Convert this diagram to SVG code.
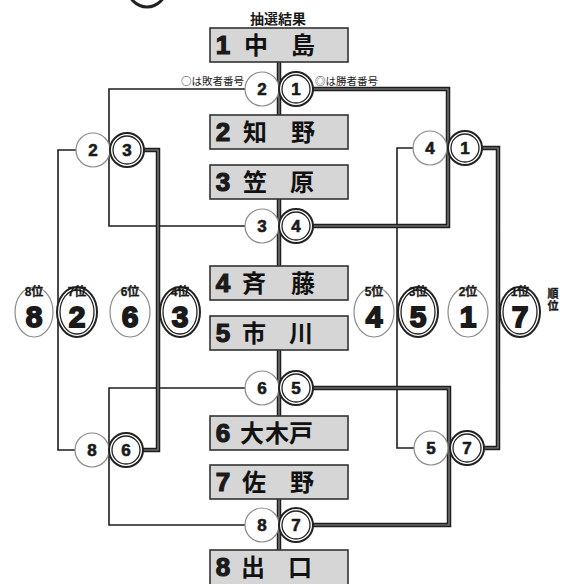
<svg xmlns="http://www.w3.org/2000/svg" width="568" height="584" viewBox="0 0 568 584">
<style>
.box{fill:#d6d6d6;stroke:#333;stroke-width:1.6}
.t{fill:none;stroke:#1e1e1e;stroke-width:1.6}
.w{fill:none;stroke:#1e1e1e;stroke-width:4.5}
.wi{fill:none;stroke:#8c8c8c;stroke-width:1.2}
.lc{fill:#fff;stroke:#8a8a8a;stroke-width:1.2}
.wo{fill:#fff;stroke:#222;stroke-width:2}
.wn{fill:none;stroke:#222;stroke-width:1.3}
.num{font-family:"Liberation Sans",Arial,sans-serif;font-weight:bold;fill:#1a1a1a;text-anchor:middle}
.cn{font-size:17px;stroke:#1a1a1a;stroke-width:0.6}
.bn{font-size:26px;stroke:#1a1a1a;stroke-width:1.2}
.rn{font-size:30px;stroke:#1a1a1a;stroke-width:1.8}
.rl{font-family:"Liberation Sans","Noto Sans CJK JP",sans-serif;font-weight:bold;font-size:12px;fill:#1a1a1a;text-anchor:middle;stroke:#1a1a1a;stroke-width:0.3}
.name{font-family:"Noto Sans CJK JP",sans-serif;font-weight:bold;font-size:24px;fill:#111;text-anchor:middle}
.small{font-family:"Noto Sans CJK JP",sans-serif;font-size:10.5px;fill:#1a1a1a}
.head{font-family:"Noto Sans CJK JP",sans-serif;font-weight:bold;font-size:14px;fill:#1a1a1a;text-anchor:middle}
</style>

<ellipse cx="147" cy="-12" rx="19" ry="19" fill="none" stroke="#222" stroke-width="3"/>
<text class="head" x="278" y="24">抽選結果</text>
<text class="small" x="244" y="85" text-anchor="end">○は敗者番号</text>
<text class="small" x="315" y="85">◎は勝者番号</text>

<g id="connectors">
  <path class="t" d="M262,89 H109 V226 H262"/>
  <path class="t" d="M262,388 H109 V525 H262"/>
  <path class="t" d="M93,150 H58 V450 H92"/>
  <path class="t" d="M430,148 H397 V448 H431"/>
  <path class="w" d="M296,89 H448 V226 H296 M296,388 H449 V525 H296 M127,150 H158 V450 H126 M465,148 H498 V448 H467 M279,62 V115 M279,199 V266 M279,350 V416 M279,499 V550"/>
  <path class="wi" d="M296,89 H448 V226 H296 M296,388 H449 V525 H296 M127,150 H158 V450 H126 M465,148 H498 V448 H467 M279,62 V115 M279,199 V266 M279,350 V416 M279,499 V550"/>
</g>

<g id="p1"><rect class="box" x="210" y="28" width="138" height="34"/><text class="num bn" x="223" y="54">1</text><text class="name" x="256" y="54">中</text><text class="name" x="303" y="54">島</text></g>
<g id="p2"><rect class="box" x="210" y="115" width="138" height="34"/><text class="num bn" x="223" y="141">2</text><text class="name" x="255" y="141">知</text><text class="name" x="303" y="141">野</text></g>
<g id="p3"><rect class="box" x="210" y="165" width="138" height="34"/><text class="num bn" x="223" y="191">3</text><text class="name" x="255" y="191">笠</text><text class="name" x="302" y="191">原</text></g>
<g id="p4"><rect class="box" x="210" y="266" width="138" height="34"/><text class="num bn" x="223" y="292">4</text><text class="name" x="254" y="292">斉</text><text class="name" x="303" y="292">藤</text></g>
<g id="p5"><rect class="box" x="210" y="316" width="138" height="34"/><text class="num bn" x="223" y="342">5</text><text class="name" x="254" y="342">市</text><text class="name" x="301" y="342">川</text></g>
<g id="p6"><rect class="box" x="210" y="416" width="138" height="34"/><text class="num bn" x="223" y="442">6</text><text class="name" x="252" y="442">大</text><text class="name" x="277" y="442">木</text><text class="name" x="301" y="442">戸</text></g>
<g id="p7"><rect class="box" x="210" y="465" width="138" height="34"/><text class="num bn" x="223" y="491">7</text><text class="name" x="254" y="491">佐</text><text class="name" x="302" y="491">野</text></g>
<g id="p8"><rect class="box" x="210" y="550" width="138" height="40"/><text class="num bn" x="223" y="576">8</text><text class="name" x="253" y="576">出</text><text class="name" x="300" y="576">口</text></g>

<g id="m1">
  <circle class="lc" cx="262" cy="89" r="17"/><text class="num cn" x="262" y="95">2</text>
  <circle class="wo" cx="296" cy="89" r="17"/><circle class="wn" cx="296" cy="89" r="14"/><text class="num cn" x="296" y="95">1</text>
</g>
<g id="m2">
  <circle class="lc" cx="262" cy="226" r="17"/><text class="num cn" x="262" y="232">3</text>
  <circle class="wo" cx="296" cy="226" r="17"/><circle class="wn" cx="296" cy="226" r="14"/><text class="num cn" x="296" y="232">4</text>
</g>
<g id="m3">
  <circle class="lc" cx="262" cy="388" r="17"/><text class="num cn" x="262" y="394">6</text>
  <circle class="wo" cx="296" cy="388" r="17"/><circle class="wn" cx="296" cy="388" r="14"/><text class="num cn" x="296" y="394">5</text>
</g>
<g id="m4">
  <circle class="lc" cx="262" cy="525" r="17"/><text class="num cn" x="262" y="531">8</text>
  <circle class="wo" cx="296" cy="525" r="17"/><circle class="wn" cx="296" cy="525" r="14"/><text class="num cn" x="296" y="531">7</text>
</g>
<g id="l1">
  <circle class="lc" cx="93" cy="150" r="17"/><text class="num cn" x="93" y="156">2</text>
  <circle class="wo" cx="127" cy="150" r="17"/><circle class="wn" cx="127" cy="150" r="14"/><text class="num cn" x="127" y="156">3</text>
</g>
<g id="l2">
  <circle class="lc" cx="92" cy="450" r="17"/><text class="num cn" x="92" y="456">8</text>
  <circle class="wo" cx="126" cy="450" r="17"/><circle class="wn" cx="126" cy="450" r="14"/><text class="num cn" x="126" y="456">6</text>
</g>
<g id="w1">
  <circle class="lc" cx="430" cy="148" r="17"/><text class="num cn" x="430" y="154">4</text>
  <circle class="wo" cx="465" cy="148" r="17"/><circle class="wn" cx="465" cy="148" r="14"/><text class="num cn" x="465" y="154">1</text>
</g>
<g id="w2">
  <circle class="lc" cx="431" cy="448" r="17"/><text class="num cn" x="431" y="454">5</text>
  <circle class="wo" cx="467" cy="448" r="17"/><circle class="wn" cx="467" cy="448" r="14"/><text class="num cn" x="467" y="454">7</text>
</g>

<g id="rank8"><ellipse class="lc" cx="34" cy="312" rx="19" ry="25"/><text class="rl" x="34" y="296">8位</text><text class="num rn" x="34" y="327">8</text></g>
<g id="rank7"><ellipse class="wo" cx="77" cy="312" rx="20" ry="25"/><ellipse class="wn" cx="77" cy="312" rx="17" ry="22"/><text class="rl" x="77" y="296">7位</text><text class="num rn" x="77" y="327">2</text></g>
<g id="rank6"><ellipse class="lc" cx="130" cy="312" rx="20" ry="25"/><text class="rl" x="130" y="296">6位</text><text class="num rn" x="130" y="327">6</text></g>
<g id="rank4"><ellipse class="wo" cx="180" cy="312" rx="20" ry="25"/><ellipse class="wn" cx="180" cy="312" rx="17" ry="22"/><text class="rl" x="180" y="296">4位</text><text class="num rn" x="180" y="327">3</text></g>
<g id="rank5"><ellipse class="lc" cx="374" cy="312" rx="20" ry="25"/><text class="rl" x="374" y="296">5位</text><text class="num rn" x="374" y="327">4</text></g>
<g id="rank3"><ellipse class="wo" cx="418" cy="312" rx="20" ry="25"/><ellipse class="wn" cx="418" cy="312" rx="17" ry="22"/><text class="rl" x="418" y="296">3位</text><text class="num rn" x="418" y="327">5</text></g>
<g id="rank2"><ellipse class="lc" cx="468" cy="312" rx="20" ry="25"/><text class="rl" x="468" y="296">2位</text><text class="num rn" x="468" y="327">1</text></g>
<g id="rank1"><ellipse class="wo" cx="520" cy="312" rx="20" ry="25"/><ellipse class="wn" cx="520" cy="312" rx="17" ry="22"/><text class="rl" x="520" y="296">1位</text><text class="num rn" x="520" y="327">7</text></g>
<g id="juni"><text class="rl" x="553" y="298" style="font-size:11px">順</text><text class="rl" x="553" y="310" style="font-size:11px">位</text></g>
</svg>
